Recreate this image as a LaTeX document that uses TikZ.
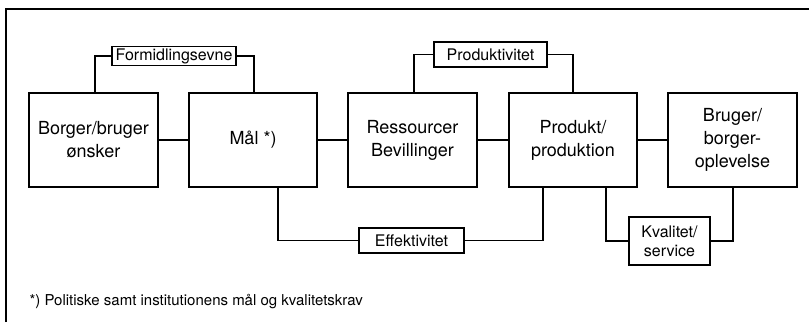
\documentclass[tikz,border=0pt]{standalone}
\usepackage{fontspec}
\setmainfont{TeX Gyre Heros}
\begin{document}
\begin{tikzpicture}[x=1pt,y=-1pt,
  line width=1.2pt,
  bigbox/.style={draw, minimum width=129pt, minimum height=94pt, inner sep=0pt,
    align=center, font=\fontsize{18}{23}\selectfont},
  tag/.style={draw, inner sep=0pt, align=center, font=\fontsize{16}{19}\selectfont},
  wire/.style={line width=1.2pt}]
\useasboundingbox (0,0) rectangle (809,322);
% frame
\draw[line width=1.4pt] (6,322) -- (6,9) -- (809,9);

% main chain
\node[bigbox] (b1) at (93.5,140) {Borger/bruger\\ønsker};
\node[bigbox, minimum width=128pt] (b2) at (253,140) {Mål *)};
\node[bigbox] (b3) at (412.5,140) {Ressourcer\\Bevillinger};
\node[bigbox, minimum width=128pt] (b4) at (573,140) {Produkt/\\produktion};
\node[bigbox] (b5) at (732.5,140) {Bruger/\\borger-\\oplevelse};

% labelled links
\node[tag, minimum width=124pt, minimum height=19pt] (f) at (174,56) {Formidlingsevne};
\node[tag, minimum width=113pt, minimum height=25pt] (p) at (490.5,54.5) {Produktivitet};
\node[tag, minimum width=105pt, minimum height=25pt] (e) at (411.5,240.5) {Effektivitet};
\node[tag, minimum width=81pt, minimum height=48pt] (k) at (669.5,241) {Kvalitet/\\service};

\draw[wire] (b1) -- (b2);
\draw[wire] (b2) -- (b3);
\draw[wire] (b3) -- (b4);
\draw[wire] (b4) -- (b5);

\draw[wire] ([xshift=1.5pt]b1.north) |- (f.west);
\draw[wire] (f.east) -| ([xshift=1pt]b2.north);
\draw[wire] ([xshift=1.5pt]b3.north) |- (p.west);
\draw[wire] (p.east) -| (b4.north);
\draw[wire] ([xshift=25pt]b2.south) |- (e.west);
\draw[wire] (e.east) -| ([xshift=-30pt]b4.south);
\draw[wire] ([xshift=33pt]b4.south) |- (k.west);
\draw[wire] (k.east) -| ([xshift=0.5pt]b5.south);

% footnote
\node[anchor=base west, inner sep=0pt, font=\fontsize{15}{18}\selectfont] (fn) at (29,305)
  {*) Politiske samt institutionens mål og kvalitetskrav};
\end{tikzpicture}
\end{document}
